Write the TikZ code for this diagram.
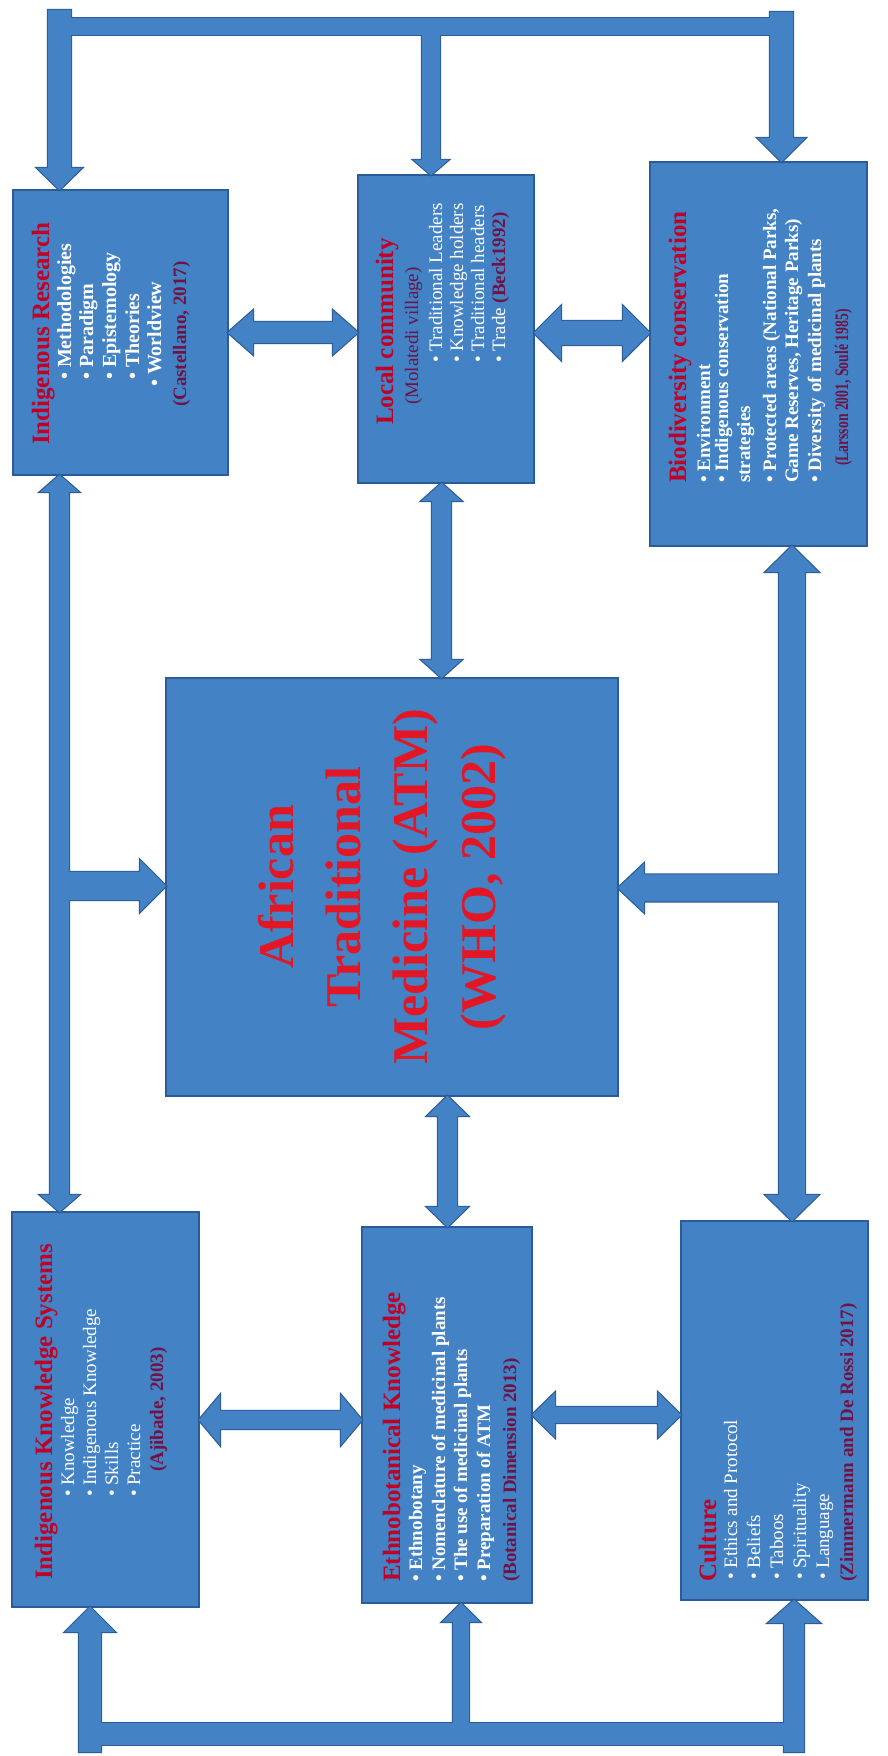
\documentclass[tikz,border=0pt]{standalone}
\usepackage{fontspec}
\usepackage{graphicx}
\setmainfont{Liberation Serif}
\usetikzlibrary{calc}
\definecolor{boxblue}{RGB}{67,131,197}
\definecolor{edgeblue}{RGB}{44,92,152}
\definecolor{titlered}{RGB}{192,0,36}
\definecolor{refred}{RGB}{112,18,68}
\definecolor{atmred}{RGB}{226,22,36}
\tikzset{
 box/.style={draw=edgeblue, line width=1.2pt, fill=boxblue, inner sep=0pt, outer sep=0pt},
 arrline/.style={draw=edgeblue, line width=2.4pt, fill=boxblue, line join=miter},
 arrfill/.style={fill=boxblue, draw=none},
 txt/.style={rotate=90, anchor=base west, inner sep=0pt, outer sep=0pt},
 ttl/.style={txt, font=\fontsize{25}{25}\selectfont\bfseries, text=titlered},
 bul/.style={txt, font=\fontsize{19}{19}\selectfont, text=white},
 bulb/.style={txt, font=\fontsize{19}{19}\selectfont\bfseries, text=white},
 bulbb/.style={txt, font=\fontsize{20}{20}\selectfont\bfseries, text=white},
 ref/.style={txt, font=\fontsize{19}{19}\selectfont\bfseries, text=refred},
 big/.style={rotate=90, anchor=base, inner sep=0pt, font=\fontsize{50}{50}\selectfont\bfseries, text=atmred},
}
% vertical double arrow: style, upper point, lower point, half shaft, half head, head length
\newcommand{\VDouble}[6]{\path[#1] let \p1=(#2), \p2=(#3) in
 (\x1,\y1) -- (\x1+#5,\y1-#6) -- (\x1+#4,\y1-#6) -- (\x1+#4,\y2+#6) -- (\x1+#5,\y2+#6) -- (\x1,\y2)
 -- (\x1-#5,\y2+#6) -- (\x1-#4,\y2+#6) -- (\x1-#4,\y1-#6) -- (\x1-#5,\y1-#6) -- cycle;}
% horizontal double arrow: style, left point, right point, half shaft, half head, head length
\newcommand{\HDouble}[6]{\path[#1] let \p1=(#2), \p2=(#3) in
 (\x1,\y1) -- (\x1+#6,\y1+#5) -- (\x1+#6,\y1+#4) -- (\x2-#6,\y1+#4) -- (\x2-#6,\y1+#5) -- (\x2,\y1)
 -- (\x2-#6,\y1-#5) -- (\x2-#6,\y1-#4) -- (\x1+#6,\y1-#4) -- (\x1+#6,\y1-#5) -- cycle;}
% vertical single arrow: style, start, tip, half shaft, half head, signed offset of head base
\newcommand{\VSingle}[6]{\path[#1] let \p1=(#2), \p2=(#3) in
 (\x2-#4,\y1) -- (\x2-#4,{\y2+(#6)}) -- (\x2-#5,{\y2+(#6)}) -- (\x2,\y2) -- (\x2+#5,{\y2+(#6)})
 -- (\x2+#4,{\y2+(#6)}) -- (\x2+#4,\y1) -- cycle;}
% horizontal single arrow
\newcommand{\HSingle}[6]{\path[#1] let \p1=(#2), \p2=(#3) in
 (\x1,\y2-#4) -- ({\x2+(#6)},\y2-#4) -- ({\x2+(#6)},\y2-#5) -- (\x2,\y2) -- ({\x2+(#6)},\y2+#5)
 -- ({\x2+(#6)},\y2+#4) -- (\x1,\y2+#4) -- cycle;}
\newcommand{\connectors}[1]{%
 % top structure
 \path[#1] (barA) rectangle (barB);
 \VSingle{#1}{topL}{59.5,0 |- ir.north}{11.5}{22.5}{22}
 \VSingle{#1}{topM}{431,0 |- lc.north}{9}{17.5}{15}
 \VSingle{#1}{topR}{781.5,0 |- bc.north}{11.5}{24}{24}
 % left long vertical with branch
 \VDouble{#1}{59.5,0 |- ir.south}{59.5,0 |- iks.north}{9.5}{19.5}{17}
 \HSingle{#1}{62,870}{atm.west |- 0,870}{14}{26}{-26}
 % right long vertical with branch
 \VDouble{#1}{792,0 |- bc.south}{792,0 |- cul.north}{13}{26.5}{26}
 \HSingle{#1}{790,868}{atm.east |- 0,868}{13.5}{24.5}{26}
 % centre links
 \VDouble{#1}{441.5,0 |- lc.south}{441.5,0 |- atm.north}{9.5}{20}{18}
 \VDouble{#1}{447.5,0 |- atm.south}{447.5,0 |- ek.north}{9.5}{20.5}{20}
 \HDouble{#1}{ir.east |- 0,1423.5}{lc.west |- 0,1423.5}{10.5}{22}{25}
 \HDouble{#1}{lc.east |- 0,1423}{bc.west |- 0,1423}{12}{27}{27}
 \HDouble{#1}{iks.east |- 0,336}{ek.west |- 0,336}{9}{25}{21}
 \HDouble{#1}{ek.east |- 0,341}{cul.west |- 0,341}{8}{22.5}{23}
 % bottom structure
 \path[#1] (barC) rectangle (barD);
 \VSingle{#1}{botL}{90,0 |- iks.south}{11}{25}{-25}
 \VSingle{#1}{botM}{461,0 |- ek.south}{8}{19}{-19}
 \VSingle{#1}{botR}{794,0 |- cul.south}{10}{26}{-23}
}
\begin{document}
\begin{tikzpicture}[x=1pt,y=1pt]
\fill[white] (0,0) rectangle (888,1756);
\useasboundingbox (0,0) rectangle (888,1756);
% boxes
\node[box, minimum width=215pt, minimum height=285pt] (ir) at (120.5,1423.5) {};
\node[box, minimum width=176pt, minimum height=308pt] (lc) at (446,1427) {};
\node[box, minimum width=217pt, minimum height=384pt] (bc) at (758.5,1402) {};
\node[box, minimum width=452pt, minimum height=418pt] (atm) at (392,869) {};
\node[box, minimum width=187pt, minimum height=395pt] (iks) at (105.5,346.5) {};
\node[box, minimum width=170pt, minimum height=376pt] (ek) at (447,341) {};
\node[box, minimum width=187pt, minimum height=379pt] (cul) at (774.5,345.5) {};
% connector coordinates
\coordinate (topL) at (59.5,1746);
\coordinate (topR) at (781.5,1744);
\coordinate (topM) at (431,1728);
\coordinate (barA) at (48,1738);
\coordinate (barB) at (793,1721);
\coordinate (barC) at (79,33);
\coordinate (barD) at (804,11);
\coordinate (botL) at (90,4);
\coordinate (botM) at (461,22);
\coordinate (botR) at (794,4);
\connectors{arrline}
\connectors{arrfill}
% Indigenous Research
\node[ttl] (irT) at (49,1311) {Indigenous Research};
\node[bulbb] (ir1) at (71,1376) {• Methodologies};
\node[bulbb] (ir2) at (93,1376) {• Paradigm};
\node[bulbb] (ir3) at (116,1376) {• Epistemology};
\node[bulbb] (ir4) at (139,1376) {• Theories};
\node[bulbb] (ir5) at (161,1369) {• Worldview};
\node[ref] (irR) at (186,1349) {(Castellano, 2017)};
% Local community
\node[ttl] (lcT) at (393,1331) {Local community};
\node[txt, font=\fontsize{19}{19}\selectfont, text=refred] (lcS) at (418,1351) {(Molatedi village)};
\node[bul] (lc1) at (442,1393) {• Traditional Leaders};
\node[bul] (lc2) at (463,1393) {• Knowledge holders};
\node[bul] (lc3) at (484,1393) {• Traditional headers};
\node[bul] (lc4) at (505,1393) {• Trade \textcolor{refred}{\bfseries(Beck1992)}};
% Biodiversity conservation
\node[ttl] (bcT) at (686,1273) {Biodiversity conservation};
\node[bulb] (bc1) at (710,1273) {• Environment};
\node[bulb] (bc2) at (728,1273) {• Indigenous conservation};
\node[bulb] (bc3) at (750,1273) {strategies};
\node[bulb] (bc4) at (776,1273) {• Protected areas (National Parks,};
\node[bulb] (bc5) at (798,1273) {Game Reserves, Heritage Parks)};
\node[bulb] (bc6) at (821,1273) {• Diversity of medicinal plants};
\node[ref] (bcR) at (848,1290) {\scalebox{0.72}[1]{(Larsson 2001, Soulé 1985)}};
% ATM
\node[big] (atm1) at (293,869) {African};
\node[big] (atm2) at (360,869) {Traditional};
\node[big] (atm3) at (427,869) {Medicine (ATM)};
\node[big] (atm4) at (495,869) {(WHO, 2002)};
% Indigenous Knowledge Systems
\node[ttl] (iksT) at (52,176) {Indigenous Knowledge Systems};
\node[bul] (iks1) at (74,259) {• Knowledge};
\node[bul] (iks2) at (96,259) {• Indigenous Knowledge};
\node[bul] (iks3) at (118,259) {• Skills};
\node[bul] (iks4) at (140,259) {• Practice};
\node[ref] (iksR) at (163,284) {(Ajibade, 2003)};
% Ethnobotanical Knowledge
\node[ttl] (ekT) at (400,174) {Ethnobotanical Knowledge};
\node[bulb] (ek1) at (422,174) {• Ethnobotany};
\node[bulb] (ek2) at (445,174) {• Nomenclature of medicinal plants};
\node[bulb] (ek3) at (467,174) {• The use of medicinal plants};
\node[bulb] (ek4) at (490,174) {• Preparation of ATM};
\node[ref] (ekR) at (516,174) {(Botanical Dimension 2013)};
% Culture
\node[ttl] (culT) at (716,174) {Culture};
\node[bul] (cul1) at (737,176) {• Ethics and Protocol};
\node[bul] (cul2) at (760,176) {• Beliefs};
\node[bul] (cul3) at (783,176) {• Taboos};
\node[bul] (cul4) at (806,176) {• Spirituality};
\node[bul] (cul5) at (829,176) {• Language};
\node[ref] (culR) at (853,174) {(Zimmermann and De Rossi 2017)};
\end{tikzpicture}
\end{document}
